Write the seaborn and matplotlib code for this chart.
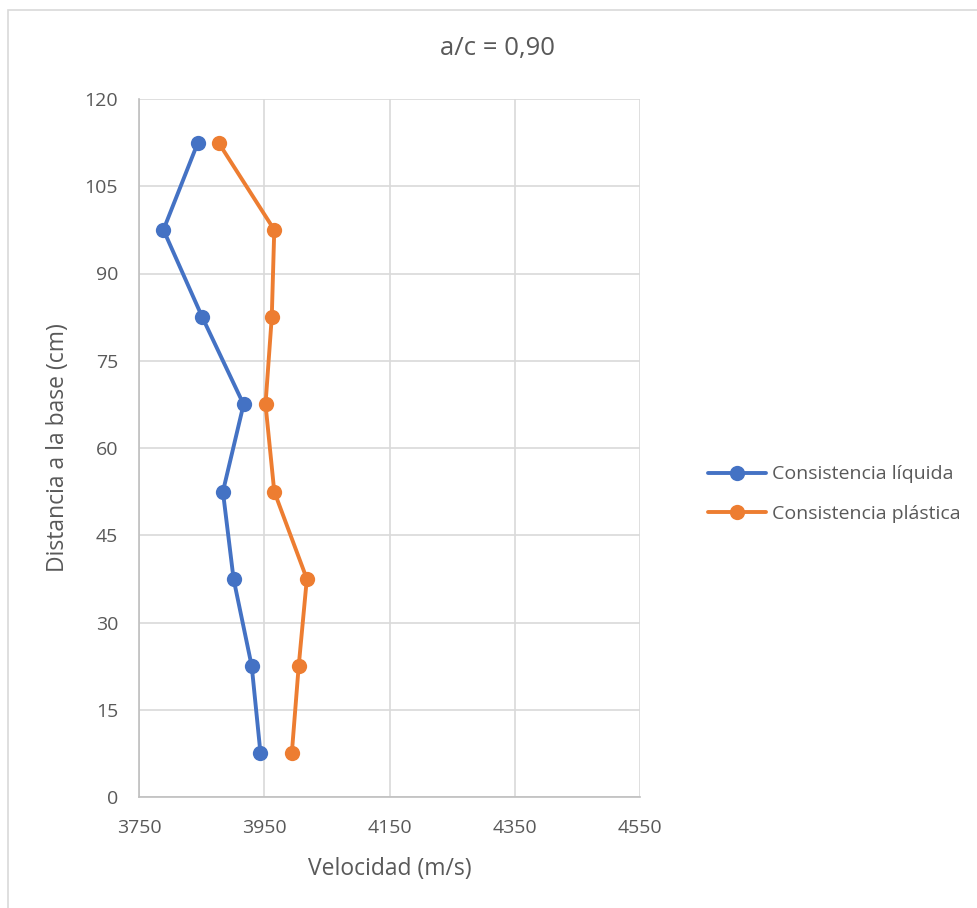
import matplotlib
matplotlib.use("Agg")
import matplotlib.pyplot as plt
import seaborn as sns
import pandas as pd
from matplotlib.patches import Rectangle

distancia = [112.5, 97.5, 82.5, 67.5, 52.5, 37.5, 22.5, 7.5]
vel_liquida = [3844, 3789, 3851, 3917, 3884, 3901, 3930, 3944]
vel_plastica = [3877, 3966, 3962, 3952, 3966, 4018, 4005, 3994]
series = ["Consistencia líquida", "Consistencia plástica"]
x_ticks = [3750, 3950, 4150, 4350, 4550]
y_ticks = [0, 15, 30, 45, 60, 75, 90, 105, 120]

df = pd.DataFrame({
    "vel": vel_liquida + vel_plastica,
    "dist": distancia + distancia,
    "serie": [series[0]] * len(distancia) + [series[1]] * len(distancia),
})

sns.set_theme(style="white")
plt.rcParams["font.family"] = ["Open Sans", "DejaVu Sans"]
txt = "#595959"

fig = plt.figure(figsize=(9.78, 9.08), dpi=100)
ax = fig.add_axes([139/978, 1-797/908, (640-139)/978, (797-99)/908])

sns.lineplot(data=df, x="vel", y="dist", hue="serie", sort=False, estimator=None,
             marker="o", markersize=11, markeredgewidth=0, linewidth=2.8,
             palette=["#4472C4", "#ED7D31"], ax=ax, legend=True)

ax.set_xlim(3750, 4550)
ax.set_ylim(0, 120)
ax.set_xticks(x_ticks)
ax.set_yticks(y_ticks)
ax.grid(True, color="#d9d9d9", linewidth=1.2)
ax.set_axisbelow(True)
for s in ["top", "right"]:
    ax.spines[s].set_visible(False)
for s in ["left", "bottom"]:
    ax.spines[s].set_color("#bfbfbf")
    ax.spines[s].set_linewidth(1.2)
ax.tick_params(axis="x", length=0, labelsize=14, colors=txt, pad=16)
ax.tick_params(axis="y", length=0, labelsize=14, colors=txt, pad=15)
ax.set_xlabel("Velocidad (m/s)", fontsize=16.5, color=txt)
ax.set_ylabel("Distancia a la base (cm)", fontsize=16.5, color=txt)
ax.xaxis.set_label_coords(0.5, (797-857)/698)
ax.yaxis.set_label_coords((70-139)/501, 0.5)
fig.text(498/978, 1-48/908, "a/c = 0,90", fontsize=18.5, color=txt,
         ha="center", va="center")

handles, labels = ax.get_legend_handles_labels()
ax.get_legend().remove()
fig.legend(handles, labels, loc="center left", bbox_to_anchor=(690/978, 1-494/908),
           frameon=False, fontsize=14, labelcolor=txt, handlelength=3.0,
           handletextpad=0.3, labelspacing=1.1)

fig.patches.append(Rectangle((8/978, -0.1), 1.2, 1-10/908+0.1, transform=fig.transFigure,
                             fill=False, edgecolor="#d9d9d9", linewidth=1.2))

fig.savefig("out.png", dpi=100)
